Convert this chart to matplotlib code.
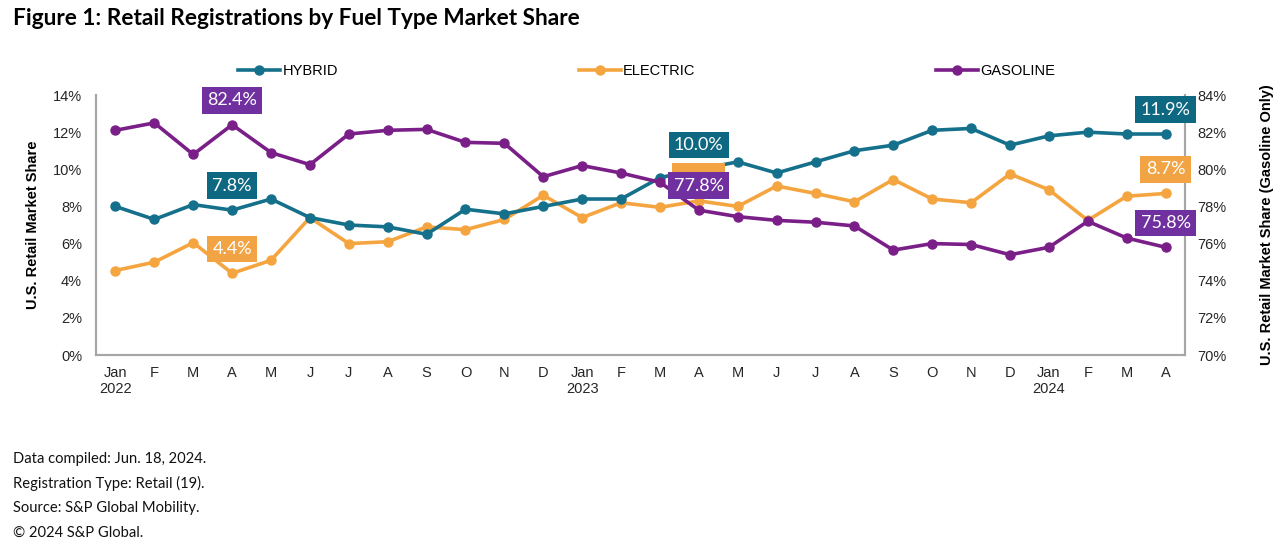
import numpy as np
import matplotlib.pyplot as plt

months = ["Jan\n2022", "F", "M", "A", "M", "J", "J", "A", "S", "O", "N", "D",
          "Jan\n2023", "F", "M", "A", "M", "J", "J", "A", "S", "O", "N", "D",
          "Jan\n2024", "F", "M", "A"]

hybrid = [8.0, 7.3, 8.1, 7.8, 8.4, 7.4, 7.0, 6.9, 6.5, 7.85, 7.6, 8.0,
          8.4, 8.4, 9.55, 10.0, 10.4, 9.8, 10.4, 11.0, 11.3, 12.1, 12.2, 11.3,
          11.8, 12.0, 11.9, 11.9]
electric = [4.55, 5.0, 6.05, 4.4, 5.1, 7.4, 6.0, 6.1, 6.9, 6.75, 7.3, 8.6,
            7.4, 8.2, 7.95, 8.3, 8.0, 9.1, 8.7, 8.25, 9.45, 8.4, 8.2, 9.75,
            8.9, 7.25, 8.55, 8.7]
gasoline = [82.1, 82.5, 80.8, 82.4, 80.9, 80.25, 81.9, 82.1, 82.15, 81.45, 81.4, 79.6,
            80.2, 79.8, 79.3, 77.8, 77.45, 77.25, 77.15, 76.95, 75.65, 76.0, 75.95, 75.4,
            75.8, 77.2, 76.3, 75.8]

# (index, series, text shown) for the value boxes; the electric box in Apr 2023
# is covered by the gasoline box in the source, so its text is blank
callouts = [(3, "gasoline", True), (3, "hybrid", True), (3, "electric", True),
            (15, "hybrid", True), (15, "electric", False), (15, "gasoline", True),
            (27, "hybrid", True), (27, "electric", True), (27, "gasoline", True)]

c_hyb = "#15708b"
c_ele = "#f5a540"
c_gas = "#7a1f88"
box_col = {"hybrid": "#0f6882", "electric": "#f2a444", "gasoline": "#7030a0"}

plt.rcParams['font.family'] = ['Liberation Sans', 'DejaVu Sans']

fig = plt.figure(figsize=(12.8, 5.56), dpi=100)
ax = fig.add_axes([0.075, 0.3615, 0.8508, 0.4676])
ax2 = ax.twinx()

x = np.arange(len(months))
l1, = ax.plot(x, hybrid, color=c_hyb, lw=2.6, marker="o", ms=6.5, label="HYBRID", zorder=3)
l2, = ax.plot(x, electric, color=c_ele, lw=2.6, marker="o", ms=6.5, label="ELECTRIC", zorder=2)
l3, = ax2.plot(x, gasoline, color=c_gas, lw=2.6, marker="o", ms=6.5, label="GASOLINE", zorder=3)

ax.set_xlim(-0.5, 27.5)
ax.set_ylim(0, 14)
ax2.set_ylim(70, 84)
ax.set_yticks(np.arange(0, 15, 2))
ax.set_yticklabels([f"{v}%" for v in range(0, 15, 2)])
ax2.set_yticks(np.arange(70, 85, 2))
ax2.set_yticklabels([f"{v}%" for v in range(70, 85, 2)])
ax.set_xticks(x)
ax.set_xticklabels(months)

for a in (ax, ax2):
    a.spines["top"].set_visible(False)
    for s in ("left", "right", "bottom"):
        a.spines[s].set_color("#a6a6a6")
        a.spines[s].set_linewidth(1.5)
    a.tick_params(length=0, labelsize=10.5, labelcolor="#262626")
ax.tick_params(axis="y", pad=10)
ax2.tick_params(axis="y", pad=9)
ax.tick_params(axis="x", pad=8)

ax.set_ylabel("U.S. Retail Market Share", fontsize=10.5, fontweight="bold", labelpad=9)
ax2.set_ylabel("U.S. Retail Market Share (Gasoline Only)", fontsize=10.5,
               fontweight="bold", labelpad=24)

vals = {"hybrid": hybrid, "electric": electric, "gasoline": gasoline}
order = {"hybrid": 5, "electric": 4, "gasoline": 6}
for i, key, shown in callouts:
    v = vals[key][i]
    src = ax2 if key == "gasoline" else ax
    txt = f"{v:.1f}%" if shown else "\u2007\u2007\u2007\u2007"
    ax2.annotate(txt, xy=(i, v), xycoords=src.transData,
                 xytext=(0, 17.5), textcoords="offset points",
                 ha="center", va="center", color="white", fontsize=13,
                 family=["Lato", "DejaVu Sans"],
                 bbox=dict(boxstyle="square,pad=0.3", fc=box_col[key], ec="none"),
                 zorder=order[key])

fig.legend(handles=[l1, l2, l3], loc="center left", bbox_to_anchor=(0.186, 0.872),
           ncol=3, frameon=False, fontsize=10.5, handlelength=2.9, handletextpad=0.15,
           columnspacing=16.5, borderpad=0, borderaxespad=0)

fig.text(0.010, 0.967, "Figure 1: Retail Registrations by Fuel Type Market Share",
         fontsize=16.3, fontweight="bold", family=["Lato", "DejaVu Sans"], va="center")

notes = ["Data compiled: Jun. 18, 2024.", "Registration Type: Retail (19).",
         "Source: S&P Global Mobility.", "\u00a9 2024 S&P Global."]
for k, line in enumerate(notes):
    fig.text(0.010, 1 - (459 + 24.5 * k) / 556, line, fontsize=10.6,
             family=["Lato", "DejaVu Sans"], va="center", color="#111111")

fig.savefig("out.png", dpi=100, facecolor="white")
